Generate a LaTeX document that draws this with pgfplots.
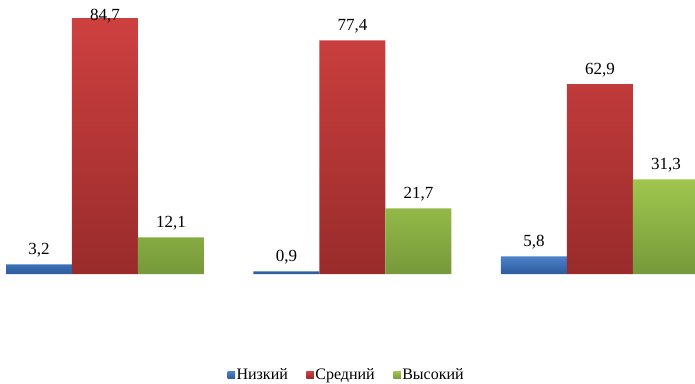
\documentclass[border=0pt]{standalone}
\usepackage{pgfplots}
\usepackage{pgfplotstable}
\pgfplotsset{compat=1.18}
\usepackage{fontspec}
\setmainfont{Liberation Serif}
\definecolor{bTop}{HTML}{4C80C8}
\definecolor{bBot}{HTML}{2C5C9E}
\definecolor{rTop}{HTML}{CE4040}
\definecolor{rBot}{HTML}{992B2B}
\definecolor{gTop}{HTML}{9FC64E}
\definecolor{gBot}{HTML}{76993A}
\pgfplotstableread{
x y dy
0 84.7 -12.5
1 77.4 0
2 62.9 0
}\redtable
\begin{document}
\begin{tikzpicture}
\useasboundingbox (0,0) rectangle (695pt,383pt);
\begin{axis}[
  anchor=south west, at={(6pt,109pt)},
  scale only axis, width=689pt, height=271.8pt,
  xmin=-0.4, xmax=2.384, ymin=0, ymax=90,
  axis lines=none,
  ybar=0pt, bar width=66pt,
  xtick=\empty, ytick=\empty,
  nodes near coords,
  every node near coord/.append style={text=black, font=\fontsize{17}{19}\selectfont, inner sep=2pt, yshift=5pt},
  /pgf/number format/.cd, use comma, fixed, fixed zerofill, precision=1, assume math mode=true,
  /pgfplots/.cd,
  legend columns=3,
  legend style={draw=none, fill=none, inner sep=0pt, at={(0.494,-0.372)}, anchor=center,
    font=\fontsize{16}{18}\selectfont,
    nodes={inner sep=1.5pt},
    /tikz/every even column/.append style={column sep=17pt}},
  legend image code/.code={\path[#1,draw=none] (0pt,-3.8pt) rectangle (7.5pt,3.8pt);},
]
\addplot[draw=none, top color=bTop, bottom color=bBot] coordinates {(0,3.2) (1,0.9) (2,5.8)};
\addplot[draw=none, top color=rTop, bottom color=rBot,
  visualization depends on={\thisrow{dy} \as \labdy},
  every node near coord/.append style={yshift=\labdy pt}] table[x=x, y=y] {\redtable};
\addplot[draw=none, top color=gTop, bottom color=gBot] coordinates {(0,12.1) (1,21.7) (2,31.3)};
\legend{Низкий, Средний, Высокий}
\end{axis}
\end{tikzpicture}
\end{document}
